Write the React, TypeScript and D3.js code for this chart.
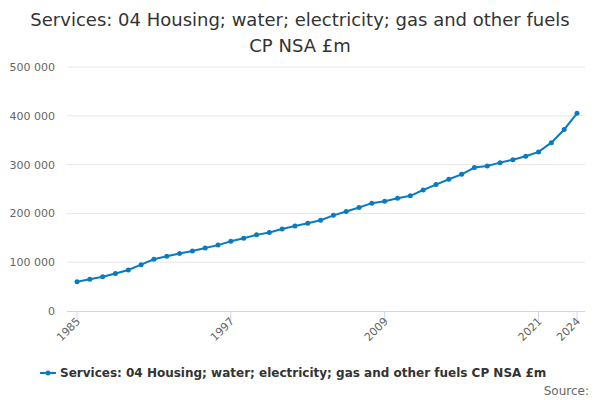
import React from "react";
import * as d3 from "d3";

const years = d3.range(1985, 2025);
const values = [
  60000, 65000, 70000, 77000, 84000, 95000, 106000, 112000, 118000, 123000,
  129000, 135000, 143000, 149000, 156000, 161000, 168000, 174000, 180000, 186000,
  196000, 204000, 212000, 221000, 225000, 231000, 236000, 248000, 259000, 270000,
  280000, 294000, 297000, 304000, 310000, 317000, 326000, 345000, 372000, 405000,
];
const yTicks = [0, 100000, 200000, 300000, 400000, 500000];
const xTickYears = [1985, 1997, 2009, 2021, 2024];
const seriesName = "Services: 04 Housing; water; electricity; gas and other fuels CP NSA £m";

const W = 600, H = 400;
const color = "#0b7bc1";
const font = "'DejaVu Sans', sans-serif";

export default function App() {
  const x = d3.scaleLinear().domain([1985, 2024]).range([77, 577]);
  const y = d3.scaleLinear().domain([0, 500000]).range([311, 67]);
  const fmt = (v: number) => d3.format(",")(v).replace(/,/g, " ");
  const line = d3.line<number>().x((_, i) => x(years[i])).y((d) => y(d));

  return (
    <svg width={W} height={H} style={{ position: "absolute", left: 0, top: 0 }} fontFamily={font}>
      <rect width={W} height={H} fill="#fff" />
      <text x={300} y={26} textAnchor="middle" fontSize={18} fill="#333">
        Services: 04 Housing; water; electricity; gas and other fuels
      </text>
      <text x={300} y={52} textAnchor="middle" fontSize={18} fill="#333">CP NSA £m</text>
      {yTicks.map((t) => (
        <g key={t}>
          {t > 0 && <line x1={67} x2={585} y1={y(t)} y2={y(t)} stroke="#e6e6e6" />}
          <text x={55} y={y(t) + 4} textAnchor="end" fontSize={11} fill="#666">{fmt(t)}</text>
        </g>
      ))}
      <line x1={67} x2={585} y1={311.5} y2={311.5} stroke="#ccd6eb" />
      {xTickYears.map((yr) => (
        <g key={yr}>
          <line x1={x(yr)} x2={x(yr)} y1={311} y2={321} stroke="#ccd6eb" />
          <text transform={`translate(${x(yr) + 4},${322}) rotate(-45)`} textAnchor="end" fontSize={11} fill="#666">{yr}</text>
        </g>
      ))}
      <path d={line(values) ?? ""} fill="none" stroke={color} strokeWidth={2} />
      {values.map((v, i) => (
        <circle key={i} cx={x(years[i])} cy={y(v)} r={2.5} fill={color} />
      ))}
      <line x1={40} x2={56} y1={373} y2={373} stroke={color} strokeWidth={2} />
      <circle cx={48} cy={373} r={2.5} fill={color} />
      <text x={60} y={377} fontSize={12} fontWeight="bold" fill="#333">{seriesName}</text>
      <text x={589} y={395} textAnchor="end" fontSize={12} fill="#666">Source:</text>
    </svg>
  );
}
